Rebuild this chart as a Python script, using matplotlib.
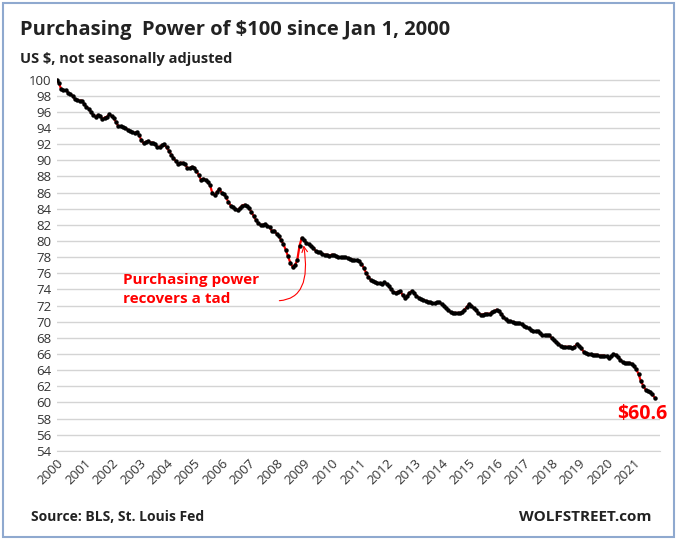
import numpy as np
import pandas as pd
import matplotlib
matplotlib.use("Agg")
from matplotlib import pyplot as plt
from matplotlib.patches import Rectangle

plt.rcParams["font.family"] = "Open Sans"

# monthly purchasing power of $100, Jan 2000 .. Oct 2021
v2000 = [100, 99.6, 98.8, 98.7, 98.7, 98.4, 98.2, 98.0, 97.6, 97.5, 97.4, 97.4]
v2001 = [97.0, 96.6, 96.4, 96.0, 95.6, 95.4, 95.6, 95.5, 95.1, 95.3, 95.4, 95.7]
v2002 = [95.5, 95.2, 94.7, 94.2, 94.2, 94.1, 94.0, 93.8, 93.6, 93.5, 93.4, 93.5]
v2003 = [93.1, 92.5, 92.1, 92.3, 92.4, 92.2, 92.2, 92.0, 91.6, 91.7, 91.9, 92.0]
v2004 = [91.6, 91.2, 90.7, 90.3, 89.9, 89.6, 89.7, 89.7, 89.5, 89.1, 89.0, 89.2]
v2005 = [89.1, 88.7, 88.2, 87.6, 87.7, 87.6, 87.3, 86.9, 85.9, 85.7, 86.1, 86.5]
v2006 = [86.0, 85.8, 85.4, 84.8, 84.4, 84.2, 84.0, 83.8, 84.1, 84.4, 84.5, 84.3]
v2007 = [84.1, 83.6, 83.1, 82.6, 82.2, 82.0, 82.0, 82.1, 81.9, 81.7, 81.2, 81.3]
v2008 = [80.9, 80.6, 80.1, 79.6, 78.9, 78.1, 77.3, 76.8, 77.0, 77.6, 79.4, 80.4]
v2009 = [80.1, 79.8, 79.6, 79.4, 79.2, 78.8, 78.6, 78.6, 78.4, 78.3, 78.3, 78.2]
v2010 = [78.3, 78.3, 78.1, 78.0, 78.0, 78.0, 78.0, 77.9, 77.8, 77.7, 77.6, 77.6]
v2011 = [77.5, 77.2, 76.7, 76.1, 75.6, 75.2, 75.0, 74.9, 74.8, 74.8, 74.7, 74.9]
v2012 = [74.7, 74.4, 74.0, 73.7, 73.6, 73.7, 73.8, 73.3, 73.0, 73.2, 73.6, 73.8]
v2013 = [73.6, 73.2, 73.0, 72.8, 72.7, 72.6, 72.5, 72.4, 72.3, 72.3, 72.4, 72.4]
v2014 = [72.2, 72.0, 71.7, 71.4, 71.2, 71.1, 71.1, 71.1, 71.1, 71.2, 71.5, 71.8]
v2015 = [72.2, 72.0, 71.7, 71.4, 71.1, 70.9, 70.9, 71.0, 71.0, 71.0, 71.2, 71.3]
v2016 = [71.5, 71.3, 71.0, 70.6, 70.3, 70.1, 70.1, 70.0, 69.9, 69.8, 69.8, 69.7]
v2017 = [69.5, 69.3, 69.2, 69.0, 68.8, 68.8, 68.8, 68.6, 68.3, 68.3, 68.3, 68.3]
v2018 = [68.0, 67.7, 67.5, 67.3, 67.0, 66.9, 66.9, 66.9, 66.9, 66.8, 66.9, 67.2]
v2019 = [67.0, 66.7, 66.3, 66.1, 66.0, 66.0, 65.9, 65.9, 65.9, 65.8, 65.8, 65.8]
v2020 = [65.7, 65.5, 65.7, 66.0, 65.9, 65.6, 65.3, 65.0, 64.9, 64.9, 64.9, 64.8]
v2021 = [64.5, 64.1, 63.5, 62.6, 62.1, 61.6, 61.4, 61.3, 61.0, 60.6]

years = list(range(2000, 2022))
yticks = list(range(54, 101, 2))

values = (v2000 + v2001 + v2002 + v2003 + v2004 + v2005 + v2006 + v2007 + v2008 + v2009
          + v2010 + v2011 + v2012 + v2013 + v2014 + v2015 + v2016 + v2017 + v2018 + v2019
          + v2020 + v2021)
x = 2000 + np.arange(len(values)) / 12.0

fig = plt.figure(figsize=(6.82, 5.4), dpi=100)
fig.patches.append(Rectangle((0.004, 0.006), 0.985, 0.988, transform=fig.transFigure,
                             fill=False, edgecolor="#8fa9cf", linewidth=1.5))
ax = fig.add_axes([0.083, 0.165, 0.885, 0.695])

ax.plot(x, values, color="red", linewidth=1.6, marker="o", markersize=2.2,
        markerfacecolor="black", markeredgecolor="black", zorder=3)

ax.set_ylim(54, 100.5)
ax.set_yticks(yticks)
ax.set_xlim(2000, 2021.95)
ax.set_xticks(years)
ax.set_xticklabels([str(y) for y in years], rotation=45, ha="right", rotation_mode="anchor")
ax.tick_params(axis="both", labelsize=9.5, length=0, colors="#333333")
ax.tick_params(axis="x", pad=4)
ax.grid(axis="y", color="#d4d4d4", linewidth=1)
for s in ["top", "right", "left"]:
    ax.spines[s].set_visible(False)
ax.spines["bottom"].set_color("#d4d4d4")

fig.text(0.03, 0.935, "Purchasing  Power of $100 since Jan 1, 2000", fontsize=14.5,
         fontweight="bold", color="#222222")
fig.text(0.03, 0.883, "US $, not seasonally adjusted", fontsize=10.5, fontweight="bold",
         color="#222222")

ax.text(2002.4, 74.0, "Purchasing power\nrecovers a tad", fontsize=11, fontweight="bold",
        color="red", linespacing=1.4, va="center")
ax.annotate("", xy=(x[107] + 0.05, values[107] - 0.6), xytext=(2008.0, 72.6),
            arrowprops=dict(arrowstyle="->", color="red", lw=0.8,
                            connectionstyle="angle3,angleA=0,angleB=100"))

ax.text(x[-1] + 0.45, values[-1] - 2.6, "$60.6", fontsize=14, fontweight="bold",
        color="red", ha="right")

fig.text(0.045, 0.035, "Source: BLS, St. Louis Fed", fontsize=10, fontweight="bold",
         color="#222222")
fig.text(0.955, 0.035, "WOLFSTREET.com", fontsize=11, fontweight="bold",
         color="#222222", ha="right")

fig.savefig("out.png", dpi=100)
